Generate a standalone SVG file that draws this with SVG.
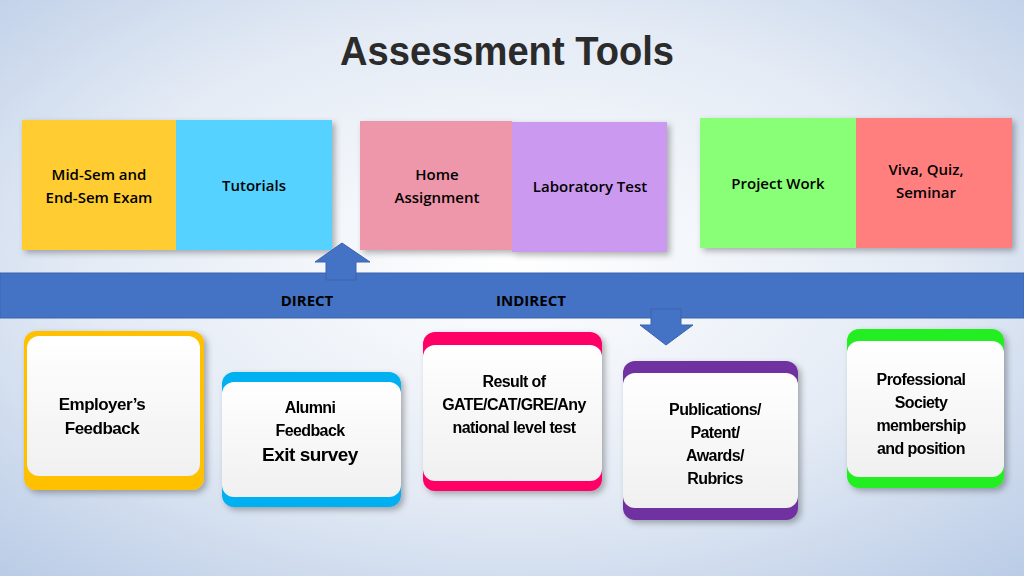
<svg xmlns="http://www.w3.org/2000/svg" width="1024" height="576" viewBox="0 0 1024 576">
<defs>
<radialGradient id="bg" cx="0.5" cy="0.45" r="0.75">
<stop offset="0" stop-color="#ffffff"/><stop offset="0.55" stop-color="#e4ebf5"/><stop offset="1" stop-color="#b9cbe6"/>
</radialGradient>
<linearGradient id="card" x1="0" y1="0" x2="0" y2="1"><stop offset="0" stop-color="#ffffff"/><stop offset="1" stop-color="#f0f0f0"/></linearGradient>
<filter id="sh" x="-10%" y="-10%" width="130%" height="130%"><feDropShadow dx="3" dy="3" stdDeviation="3" flood-opacity="0.3"/></filter>
</defs>
<style>
text{font-family:"Liberation Sans",Arial,sans-serif;text-anchor:middle;fill:#000}
.t{font-family:"Open Sans","Noto Sans",sans-serif;font-weight:600;font-size:15px}
.c{font-weight:bold;font-size:17px;letter-spacing:-0.5px}
.n{font-weight:bold;font-size:16px;letter-spacing:-0.6px}
.b{font-family:"Open Sans","Noto Sans",sans-serif;font-weight:700;font-size:15px}
.in{fill:url(#card)}
</style>
<rect width="1024" height="576" fill="url(#bg)"/>
<text x="507" y="65" style="font-size:40px;font-weight:bold;fill:#2b2b2b" textLength="334" lengthAdjust="spacingAndGlyphs">Assessment Tools</text>
<g id="top1" filter="url(#sh)"><rect x="22" y="120" width="154" height="130" fill="#FFCC33"/><rect x="176" y="120" width="156" height="130" fill="#55D2FF"/></g>
<text class="t" x="99" y="180">Mid-Sem and</text><text class="t" x="99" y="203">End-Sem Exam</text>
<text class="t" x="254" y="191">Tutorials</text>
<g id="top2" filter="url(#sh)"><rect x="360" y="121" width="152" height="129" fill="#EE96AA"/><rect x="512" y="122" width="155" height="130" fill="#CC99F0"/></g>
<text class="t" x="437" y="180">Home</text><text class="t" x="437" y="203">Assignment</text>
<text class="t" x="590" y="192">Laboratory Test</text>
<g id="top3" filter="url(#sh)"><rect x="700" y="118" width="156" height="130" fill="#88FF77"/><rect x="856" y="118" width="156" height="130" fill="#FF7F7F"/></g>
<text class="t" x="778" y="189">Project Work</text>
<text class="t" x="926" y="175">Viva, Quiz,</text><text class="t" x="926" y="198">Seminar</text>
<g id="band"><rect x="0" y="273" width="1024" height="45" fill="#4472C4" stroke="#3a64ad"/>
<text class="b" x="307" y="306">DIRECT</text><text class="b" x="531" y="306">INDIRECT</text></g>
<g id="connectors" fill="#4472C4" stroke="#3a64ad" stroke-width="1">
<path d="M326,280 V262 H315 L342,243 L370,262 H356 V280 Z"/>
<path d="M651,309 H681 V325 H693 L666,345 L640,325 H651 Z"/>
</g>
<g id="n1" filter="url(#sh)"><rect x="24" y="331" width="180" height="159" rx="12" fill="#FFC000"/><rect x="27" y="336" width="173" height="140" rx="12" class="in"/>
<text class="c" x="102" y="410">Employer’s</text><text class="c" x="102" y="434">Feedback</text></g>
<g id="n2" filter="url(#sh)"><rect x="222" y="372" width="179" height="135" rx="12" fill="#00B0F0"/><rect x="222" y="382" width="179" height="115" rx="12" class="in"/>
<text class="n" x="310" y="413">Alumni</text><text class="n" x="310" y="436">Feedback</text><text class="c" x="310" y="461" style="font-size:19px">Exit survey</text></g>
<g id="n3" filter="url(#sh)"><rect x="423" y="332" width="179" height="159" rx="12" fill="#FF0066"/><rect x="423" y="345" width="179" height="136" rx="12" class="in"/>
<text class="n" x="514" y="387">Result of</text><text class="n" x="514" y="410">GATE/CAT/GRE/Any</text><text class="n" x="514" y="433">national level test</text></g>
<g id="n4" filter="url(#sh)"><rect x="623" y="361" width="175" height="159" rx="12" fill="#7030A0"/><rect x="623" y="373" width="175" height="135" rx="12" class="in"/>
<text class="n" x="715" y="415">Publications/</text><text class="n" x="715" y="438">Patent/</text><text class="n" x="715" y="461">Awards/</text><text class="n" x="715" y="484">Rubrics</text></g>
<g id="n5" filter="url(#sh)"><rect x="847" y="329" width="157" height="159" rx="12" fill="#22EE22"/><rect x="847" y="341" width="157" height="136" rx="12" class="in"/>
<text class="n" x="921" y="385">Professional</text><text class="n" x="921" y="408">Society</text><text class="n" x="921" y="431">membership</text><text class="n" x="921" y="454">and position</text></g>
</svg>
